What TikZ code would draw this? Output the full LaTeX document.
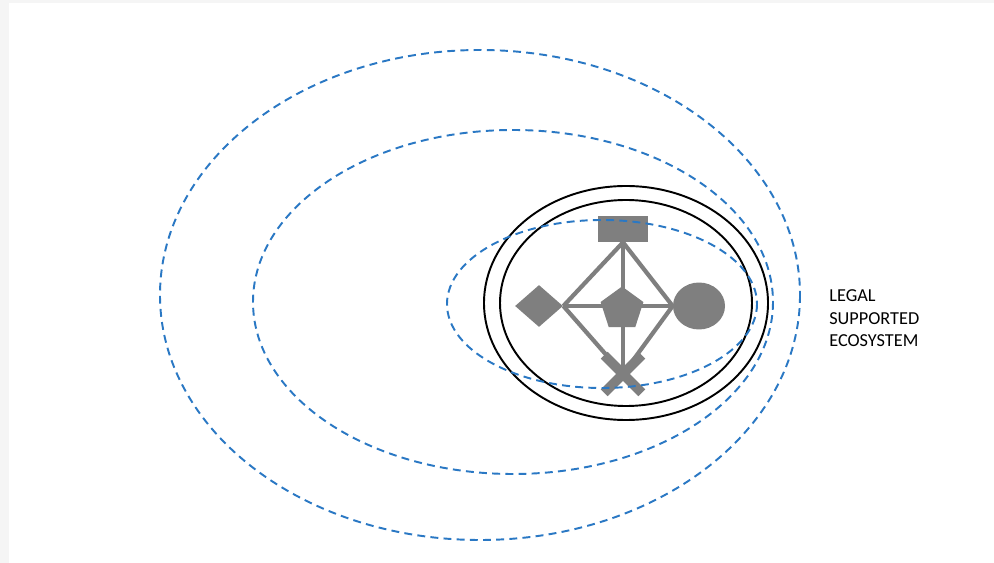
\documentclass[tikz,border=0pt]{standalone}
\usepackage{fontspec}
\setmainfont{Carlito}
\usetikzlibrary{shapes.geometric,shapes.misc}
\definecolor{ringblue}{HTML}{2A78C4}
\definecolor{partgray}{HTML}{7F7F7F}

\begin{document}
\begin{tikzpicture}[x=0.02cm, y=-0.02cm,
  ring/.style={ringblue, line width=1.1pt, dash pattern=on 4.5pt off 3pt},
  wall/.style={black, line width=1.1pt},
  part/.style={fill=partgray, draw=none, inner sep=0pt},
  link/.style={partgray, line width=2.4pt},
  every node/.style={font=\fontsize{10.4}{13}\selectfont}]
\useasboundingbox (0,0) rectangle (994,563);
\fill[black!4] (0,0) rectangle (994,563);
\fill[white] (9,3) rectangle (994,563);
% dashed rings
\draw[ring] (480,295) ellipse [x radius=320, y radius=245];
\draw[ring] (513,302) ellipse [x radius=260, y radius=172];
% solid boundary
\draw[wall] (626,303) ellipse [x radius=142, y radius=117];
\draw[wall] (626,303) ellipse [x radius=126, y radius=103];
% parts
\node[part, minimum width=1cm, minimum height=0.52cm] (top) at (623,229) {};
\node[part, diamond, minimum width=0.96cm, minimum height=0.84cm] (left) at (539,306) {};
\node[part, ellipse, minimum width=1.04cm, minimum height=0.94cm] (right) at (699,306) {};
\coordinate (low) at (623,374);
\draw[link] (top.south) -- (left.east);
\draw[link] (top.south) -- (right.west);
\draw[link] (left.east) -- (right.west);
\draw[link] (top.south) -- (low);
\draw[link] (left.east) -- (low);
\draw[link] (right.west) -- (low);
\node[part, cross out, draw=partgray, line width=5.5pt, minimum size=0.56cm] (base) at (low) {};
\node[part, regular polygon, regular polygon sides=5, minimum size=0.9cm] (mid) at (622,309) {};
% inner ring on top
\draw[ring] (602,304) ellipse [x radius=155, y radius=84];
% label
\node[anchor=north west, align=left, inner sep=0pt] (tag) at (829,289)
  {LEGAL\\SUPPORTED\\ECOSYSTEM};
\end{tikzpicture}
\end{document}
